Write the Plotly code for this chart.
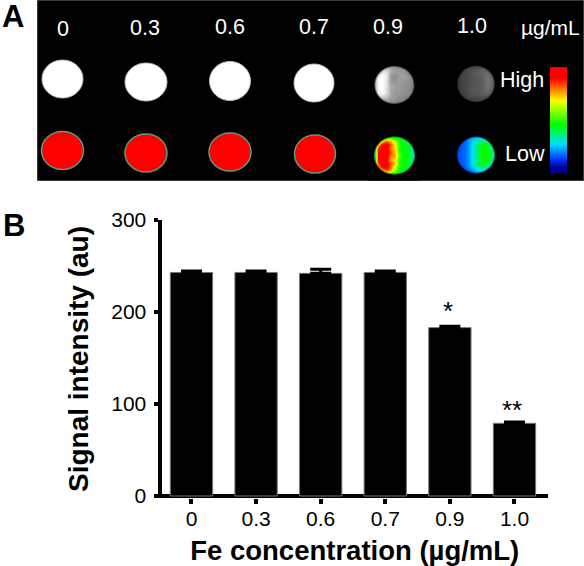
import plotly.graph_objects as go

W, H = 584, 566
FONT = "Liberation Sans, Arial, sans-serif"

# --- bar chart data (panel B)
concentrations = ["0", "0.3", "0.6", "0.7", "0.9", "1.0"]
signal = [243, 243, 242, 243, 183, 79]
signal_err = [1.5, 1.5, 4.5, 1.5, 1.5, 1.5]
stars = ["", "", "", "", "*", "**"]
star_shift = [0, 0, 0, 0, -2, -5]
y_ticks = [0, 100, 200, 300]

# --- panel A content
panel_labels = ["0", "0.3", "0.6", "0.7", "0.9", "1.0"]
unit = "µg/mL"
bar_levels = [[1.0], [0.875], [0.75], [0.625], [0.5], [0.375], [0.25], [0.125], [0.0]]

# Colour scale of the image, low to high
rainbow = [[0, "#00008f"], [0.08, "#0030ff"], [0.25, "#00e0ff"], [0.46, "#00ff00"],
           [0.71, "#ffff00"], [0.82, "#ff9000"], [0.95, "#ff0000"], [1, "#ff0000"]]
greys = [[0, "#000000"], [1, "#ffffff"]]

# Top to bottom, left to right
disc_09_colour = [
    [.20, .25, .30, .36, .40, .40, .38, .34, .28, .20, .14],
    [.25, .40, .70, .85, .80, .62, .50, .45, .36, .26, .18],
    [.30, .75, 1.0, 1.0, .90, .72, .50, .45, .45, .34, .20],
    [.32, .90, 1.0, 1.0, .85, .72, .48, .45, .45, .38, .22],
    [.34, .95, 1.0, 1.0, .90, .76, .50, .45, .45, .38, .24],
    [.34, .95, 1.0, 1.0, .86, .80, .55, .45, .45, .38, .24],
    [.34, .95, 1.0, 1.0, .82, .72, .50, .45, .45, .38, .24],
    [.32, .90, 1.0, 1.0, .88, .76, .50, .45, .45, .38, .22],
    [.30, .75, 1.0, 1.0, .88, .66, .50, .45, .43, .34, .20],
    [.25, .40, .70, .85, .78, .58, .48, .43, .36, .26, .18],
    [.15, .24, .30, .36, .38, .38, .36, .32, .26, .20, .12],
]
disc_10_colour = [
    [.06, .08, .10, .14, .18, .20, .20, .18, .14, .10, .06],
    [.08, .11, .13, .18, .24, .30, .36, .36, .30, .18, .10],
    [.09, .12, .14, .18, .25, .33, .42, .44, .42, .30, .14],
    [.10, .12, .14, .18, .26, .34, .44, .45, .45, .38, .18],
    [.10, .12, .14, .18, .26, .34, .44, .46, .46, .42, .22],
    [.10, .12, .14, .18, .26, .34, .44, .46, .46, .42, .22],
    [.10, .12, .14, .18, .26, .34, .44, .46, .46, .40, .20],
    [.10, .12, .14, .18, .26, .34, .43, .45, .44, .34, .16],
    [.08, .11, .13, .18, .24, .32, .38, .40, .34, .22, .12],
    [.07, .09, .11, .14, .18, .24, .28, .28, .22, .14, .08],
    [.05, .06, .08, .10, .12, .14, .14, .12, .10, .07, .05],
]
disc_09_grey = [
    [.25, .35, .45, .55, .58, .56, .50, .42, .36, .30, .22],
    [.40, .60, .80, .85, .70, .62, .62, .60, .52, .42, .32],
    [.55, .85, .98, .90, .62, .58, .62, .62, .58, .50, .38],
    [.65, .97, 1.0, .90, .60, .55, .60, .62, .60, .54, .42],
    [.70, 1.0, 1.0, .88, .60, .58, .62, .60, .58, .54, .44],
    [.70, 1.0, 1.0, .88, .66, .62, .60, .58, .56, .54, .42],
    [.68, .98, 1.0, .86, .66, .62, .60, .58, .56, .52, .40],
    [.62, .95, .98, .86, .66, .60, .60, .58, .56, .50, .38],
    [.50, .80, .85, .78, .64, .60, .58, .56, .52, .44, .34],
    [.35, .50, .62, .64, .60, .58, .54, .50, .44, .36, .28],
    [.20, .32, .42, .46, .46, .44, .42, .38, .32, .26, .18],
]
disc_10_grey = [
    [.12, .16, .20, .24, .26, .26, .26, .24, .20, .16, .12],
    [.18, .24, .28, .30, .32, .34, .38, .38, .34, .26, .18],
    [.20, .25, .28, .30, .33, .36, .38, .42, .42, .34, .22],
    [.20, .26, .28, .30, .33, .34, .36, .42, .46, .40, .24],
    [.20, .26, .28, .30, .33, .33, .36, .40, .46, .42, .25],
    [.20, .26, .28, .30, .33, .33, .36, .40, .46, .42, .25],
    [.20, .26, .28, .30, .33, .34, .36, .40, .44, .40, .24],
    [.20, .25, .28, .30, .33, .34, .36, .38, .42, .36, .22],
    [.18, .22, .26, .30, .32, .32, .34, .36, .36, .30, .18],
    [.14, .18, .22, .24, .26, .28, .28, .28, .26, .20, .14],
    [.10, .12, .16, .18, .20, .20, .20, .20, .16, .12, .10],
]

# --- layout geometry of panel A, in image pixels (cx, cy, rx, ry)
white_discs = [(62.5, 79, 20.5, 19), (146, 82, 21, 19), (230, 81, 20.5, 19.5), (314, 83, 20, 19)]
red_discs = [(62.5, 150.5, 21, 19), (146, 153, 21, 19), (230, 152, 21, 19), (315, 154, 20.5, 19)]
grad_discs = [
    ((394.5, 85, 20, 19), disc_09_grey, greys),
    ((476, 84, 19, 18.5), disc_10_grey, greys),
    ((394.5, 155.5, 20.5, 19), disc_09_colour, rainbow),
    ((476, 155, 19, 18.5), disc_10_colour, rainbow),
]
label_x = [63, 145, 230, 314, 388, 472]
label_y = [29, 28, 27, 27, 27, 26]


def ellipse_path(cx, cy, rx, ry):
    k = 0.5523
    return (f"M{cx - rx},{cy} C{cx - rx},{cy - k * ry} {cx - k * rx},{cy - ry} {cx},{cy - ry} "
            f"C{cx + k * rx},{cy - ry} {cx + rx},{cy - k * ry} {cx + rx},{cy} "
            f"C{cx + rx},{cy + k * ry} {cx + k * rx},{cy + ry} {cx},{cy + ry} "
            f"C{cx - k * rx},{cy + ry} {cx - rx},{cy + k * ry} {cx - rx},{cy} Z")


fig = go.Figure()

# Panel B
fig.add_trace(go.Bar(
    x=concentrations, y=signal, width=0.655,
    marker=dict(color="#000000", line=dict(color="#777777", width=1)),
    error_y=dict(type="data", array=signal_err, arrayminus=[0] * len(signal), symmetric=False,
                 color="#000000", thickness=3, width=10.5),
    xaxis="x", yaxis="y", showlegend=False,
))

shapes = []
A = dict(xref="x2", yref="y2")
shapes.append(dict(type="rect", x0=37, x1=584, y0=0, y1=181, fillcolor="#000000",
                   line=dict(color="#777777", width=1), layer="below", **A))
for cx, cy, rx, ry in white_discs:
    shapes.append(dict(type="path", path=ellipse_path(cx, cy, rx, ry), fillcolor="#ffffff",
                       line=dict(color="#bdbdbd", width=1), layer="above", **A))
for cx, cy, rx, ry in red_discs:
    shapes.append(dict(type="path", path=ellipse_path(cx, cy, rx, ry), fillcolor="#ff0000",
                       line=dict(color="#5f9a80", width=1.5), layer="above", **A))

for (cx, cy, rx, ry), z, scale in grad_discs:
    n = len(z)
    xs = [cx - rx + 2 * rx * i / (n - 1) for i in range(n)]
    ys = [cy - ry + 2 * ry * i / (n - 1) for i in range(n)]
    fig.add_trace(go.Heatmap(z=z, x=xs, y=ys, zmin=0, zmax=1, colorscale=scale, zsmooth="best",
                             showscale=False, xaxis="x2", yaxis="y2", hoverinfo="skip"))
    # Black surround that leaves the round disc showing
    bx0, bx1, by0, by1 = cx - rx - 6, cx + rx + 6, cy - ry - 6, cy + ry + 6
    hole = ellipse_path(cx, cy, rx, ry)
    shapes.append(dict(type="path",
                       path=f"M{bx0},{by0} L{bx1},{by0} L{bx1},{by1} L{bx0},{by1} Z {hole}",
                       fillcolor="#000000", line=dict(width=0), layer="above", **A))
    shapes.append(dict(type="path", path=hole, line=dict(color="rgba(0,0,0,0.35)", width=2),
                       fillcolor="rgba(0,0,0,0)", layer="above", **A))

# Rainbow scale bar of the image
fig.add_trace(go.Heatmap(z=bar_levels, x0=558.5, dx=17, y0=73, dy=94 / 8, zmin=0, zmax=1,
                         colorscale=rainbow, zsmooth="best", showscale=False,
                         xaxis="x2", yaxis="y2", hoverinfo="skip"))

ann = []
for t, x, y in zip(panel_labels, label_x, label_y):
    ann.append(dict(text=t, x=x, y=y, xref="x2", yref="y2", showarrow=False,
                    font=dict(family=FONT, size=21.5, color="#ffffff")))
ann.append(dict(text=unit, x=550, y=27, xref="x2", yref="y2", showarrow=False,
                font=dict(family=FONT, size=21, color="#ffffff")))
ann.append(dict(text="High", x=521.5, y=80, xref="x2", yref="y2", showarrow=False,
                font=dict(family=FONT, size=21.5, color="#ffffff")))
ann.append(dict(text="Low", x=524.5, y=154, xref="x2", yref="y2", showarrow=False,
                font=dict(family=FONT, size=21.5, color="#ffffff")))
ann.append(dict(text="<b>A</b>", x=12.5 / W, y=1, height=29, xref="paper", yref="paper", showarrow=False,
                xanchor="center", yanchor="top", font=dict(family=FONT, size=31, color="#000000")))
ann.append(dict(text="<b>B</b>", x=13.5 / W, y=1 - 226 / H, xref="paper", yref="paper", showarrow=False,
                xanchor="center", yanchor="middle", font=dict(family=FONT, size=31, color="#000000")))
for i, (s, v, e, sh) in enumerate(zip(stars, signal, signal_err, star_shift)):
    if s:
        ann.append(dict(text=s, x=i, y=v + e, xref="x", yref="y", yanchor="bottom", yshift=sh, xshift=-2,
                        showarrow=False, font=dict(family=FONT, size=26, color="#000000")))

fig.update_layout(
    width=W, height=H, autosize=False,
    margin=dict(l=0, r=0, t=0, b=0, pad=0), paper_bgcolor="#ffffff", plot_bgcolor="rgba(0,0,0,0)",
    showlegend=False, shapes=shapes, annotations=ann, bargap=0.345,
    font=dict(family=FONT, color="#000000"),
    xaxis=dict(domain=[161.5 / W, 548 / W], type="category", range=[-0.464, 5.519],
               categoryorder="array", categoryarray=concentrations,
               showline=False, showgrid=False, zeroline=False, automargin=False,
               ticks="outside", ticklen=5, tickwidth=4, tickcolor="#000000", ticklabelstandoff=-3,
               tickfont=dict(family=FONT, size=21, color="#000000"),
               title=dict(text="<b>Fe concentration (µg/mL)</b>",
                          font=dict(family=FONT, size=27.5, color="#000000")),
               anchor="y"),
    yaxis=dict(domain=[1 - 498 / H, 1 - 220 / H], range=[-2.17, 300], tickvals=y_ticks,
               showline=True, linewidth=4, linecolor="#000000", showgrid=False, automargin=False,
               zeroline=True, zerolinewidth=4, zerolinecolor="#000000",
               ticks="outside", ticklen=4, tickwidth=4, tickcolor="#000000", ticklabelstandoff=3,
               tickfont=dict(family=FONT, size=21, color="#000000"),
               title=dict(text="<b>Signal intensity (au)</b>",
                          font=dict(family=FONT, size=28, color="#000000")),
               anchor="x"),
    xaxis2=dict(domain=[37 / W, 1], range=[37, 584], visible=False, anchor="y2", fixedrange=True),
    yaxis2=dict(domain=[1 - 181 / H, 1], range=[181, 0], visible=False, anchor="x2", fixedrange=True),
)

fig.write_html("out.html", config={"displayModeBar": False},
               post_script="document.body.style.margin='0';window.dispatchEvent(new Event('resize'));")
